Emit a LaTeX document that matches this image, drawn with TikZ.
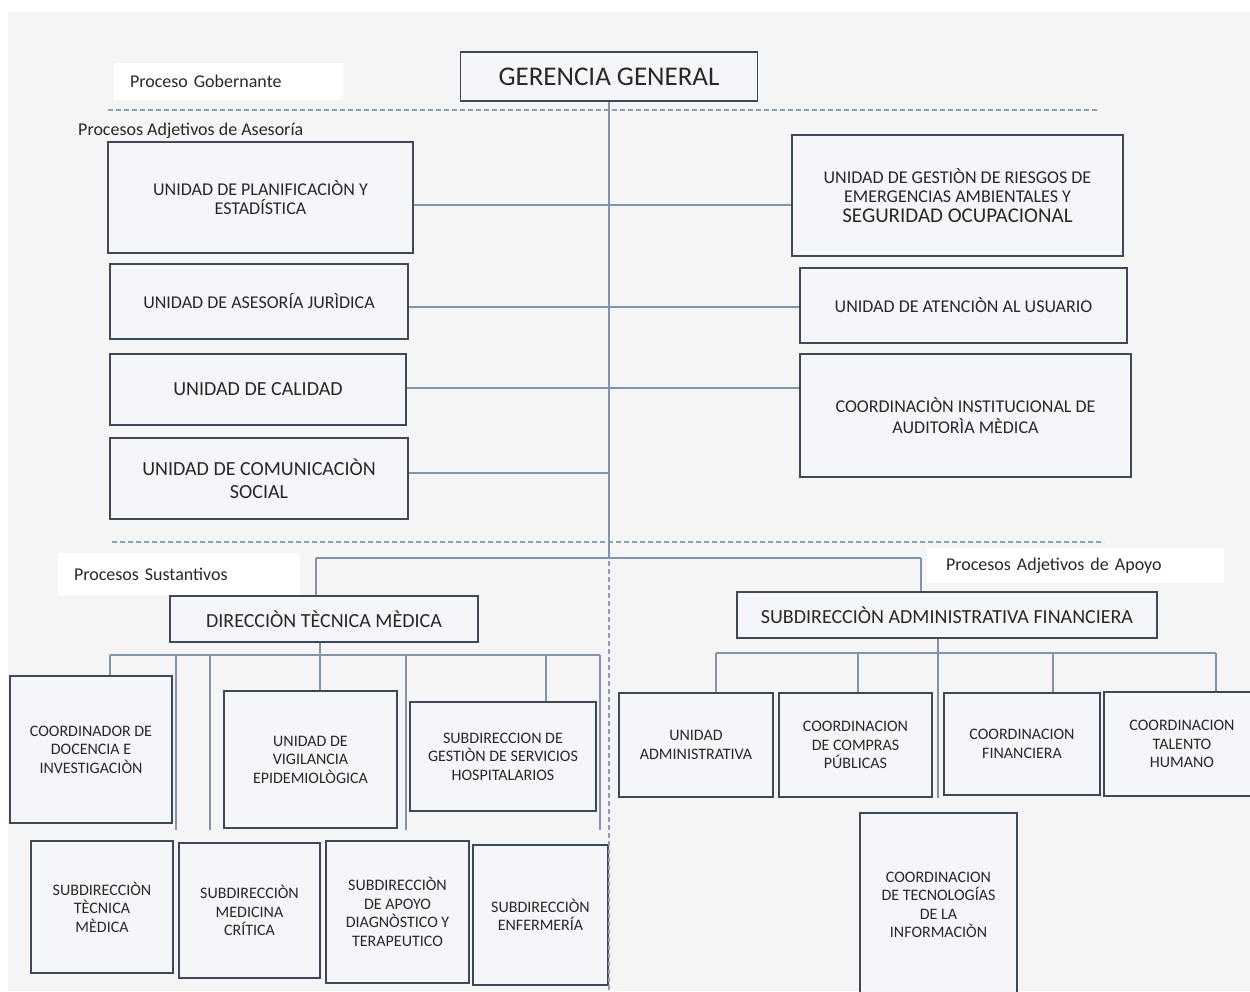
\documentclass[tikz,border=0pt]{standalone}
\usepackage{fontspec}
\setmainfont{Carlito}
\definecolor{bgc}{RGB}{245,245,246}
\definecolor{boxf}{RGB}{244,246,249}
\definecolor{boxc}{RGB}{62,72,86}
\definecolor{connc}{RGB}{130,148,170}
\definecolor{dashc}{RGB}{140,160,185}
\definecolor{txt}{RGB}{40,40,40}
\newcommand\fsz[2]{\fontsize{#1}{#2}\selectfont}
\begin{document}
\begin{tikzpicture}[x=1pt,y=-1pt,
 unit/.style={draw=boxc,line width=1.8pt,fill=boxf,inner sep=0pt,align=center,text=txt},
 big/.style={unit,font=\fsz{20}{23}},
 mid/.style={unit,font=\fsz{18}{19.5}},
 small/.style={unit,font=\fsz{16}{18.5}},
 conn/.style={draw=connc,line width=1.3pt},
 sepline/.style={draw=dashc,line width=1.2pt,dash pattern=on 5pt off 3pt},
 lab/.style={fill=white,inner ysep=0pt,text=txt,font=\fsz{18}{20},align=left}]
\useasboundingbox (0,0) rectangle (1250,991);
\clip (0,0) rectangle (1250,991);
\fill[white] (0,0) rectangle (1250,991);
\fill[bgc] (8,12) rectangle (1250,991);

% labels
\node[lab,minimum width=229pt,minimum height=37pt,inner xsep=16pt,text width=197pt] (lgob) at (228.5,81.5) {Proceso Gobernante};
\node[anchor=west,inner sep=0pt,text=txt,font=\fsz{18}{20}] (lase) at (78,131) {Procesos Adjetivos de Asesoría};
\node[lab,minimum width=242pt,minimum height=42pt,inner xsep=16pt,text width=210pt] (lsus) at (179,574) {Procesos Sustantivos};
\node[lab,minimum width=297pt,minimum height=35pt,inner xsep=19pt,text width=259pt] (lapo) at (1075.5,565.5) {Procesos Adjetivos de Apoyo};

% governing
\node[unit,font=\fsz{27}{30},minimum width=297pt,minimum height=49pt] (ger) at (609,76.5) {GERENCIA GENERAL};

% advisory
\node[mid,minimum width=305pt,minimum height=111pt] (plan) at (260.5,197.5) {UNIDAD DE PLANIFICACIÒN Y\\ESTADÍSTICA};
\node[mid,minimum width=331pt,minimum height=121pt] (ries) at (957.5,195.5) {UNIDAD DE GESTIÒN DE RIESGOS DE\\EMERGENCIAS AMBIENTALES Y\\{\fsz{21}{24}SEGURIDAD OCUPACIONAL}};
\node[mid,minimum width=298pt,minimum height=75pt] (jur) at (259,301.5) {UNIDAD DE ASESORÍA JURÌDICA};
\node[mid,minimum width=327pt,minimum height=75pt] (aten) at (963.5,305.5) {UNIDAD DE ATENCIÒN AL USUARIO};
\node[big,minimum width=296pt,minimum height=71pt] (cal) at (258,389.5) {UNIDAD DE CALIDAD};
\node[mid,minimum width=331pt,minimum height=123pt,font=\fsz{18}{21}] (aud) at (965.5,415.5) {COORDINACIÒN INSTITUCIONAL DE\\AUDITORÌA MÈDICA};
\node[big,minimum width=298pt,minimum height=81pt] (com) at (259,478.5) {UNIDAD DE COMUNICACIÒN\\SOCIAL};

% substantive
\node[big,minimum width=308pt,minimum height=46pt] (dir) at (324,619) {DIRECCIÒN TÈCNICA MÈDICA};
\node[small,minimum width=162pt,minimum height=147pt] (coo) at (91,749.5) {COORDINADOR DE\\DOCENCIA E\\INVESTIGACIÒN};
\node[small,minimum width=173pt,minimum height=137pt] (vig) at (310.5,759.5) {UNIDAD DE\\VIGILANCIA\\EPIDEMIOLÒGICA};
\node[small,minimum width=186pt,minimum height=109pt] (sge) at (503,756.5) {SUBDIRECCION DE\\GESTIÒN DE SERVICIOS\\HOSPITALARIOS};
\node[small,minimum width=142pt,minimum height=132pt] (tec) at (102,907) {SUBDIRECCIÒN\\TÈCNICA\\MÈDICA};
\node[small,minimum width=141pt,minimum height=135pt] (med) at (249.5,910.5) {SUBDIRECCIÒN\\MEDICINA\\CRÍTICA};
\node[small,minimum width=143pt,minimum height=142pt] (apo) at (397.5,912) {SUBDIRECCIÒN\\DE APOYO\\DIAGNÒSTICO Y\\TERAPEUTICO};
\node[small,minimum width=135pt,minimum height=140pt] (enf) at (540.5,915) {SUBDIRECCIÒN\\ENFERMERÍA};

% support
\node[big,minimum width=420pt,minimum height=46pt] (sub) at (947,615) {SUBDIRECCIÒN ADMINISTRATIVA FINANCIERA};
\node[small,minimum width=154pt,minimum height=104pt] (uad) at (696,745) {UNIDAD\\ADMINISTRATIVA};
\node[small,minimum width=153pt,minimum height=104pt] (cpu) at (855.5,745) {COORDINACION\\DE COMPRAS\\PÚBLICAS};
\node[small,minimum width=156pt,minimum height=102pt] (fin) at (1022,744) {COORDINACION\\FINANCIERA};
\node[small,minimum width=156pt,minimum height=104pt] (tal) at (1182,744) {COORDINACION\\TALENTO\\HUMANO};
\node[small,minimum width=157pt,minimum height=184pt] (tic) at (938.5,905) {COORDINACION\\DE TECNOLOGÍAS\\DE LA\\INFORMACIÒN};

% helper coordinates
\coordinate (d1a) at (108,110); \coordinate (d1b) at (1099,110);
\coordinate (d2a) at (112,542); \coordinate (d2b) at (1104,542);
\coordinate (dv1) at (609,545); \coordinate (dv2) at (609,991);
\coordinate (r1) at (0,205); \coordinate (r2) at (0,307);
\coordinate (r3) at (0,388); \coordinate (m4) at (609,473);
\coordinate (j1) at (609,558); \coordinate (jl) at (316,558); \coordinate (jr) at (921,558);
\coordinate (b1) at (110,655); \coordinate (b2) at (600,655);
\coordinate (dx) at (320,655); \coordinate (g1) at (546,655);
\coordinate (e1) at (176,830); \coordinate (e2) at (210,830);
\coordinate (e3) at (406,830); \coordinate (e4) at (600,830);
\coordinate (c1) at (716,653); \coordinate (c2) at (1216,653);
\coordinate (c3) at (858,653); \coordinate (c4) at (1053,653);
\coordinate (ax) at (938,798);

% separators
\draw[sepline] (d1a) -- (d1b);
\draw[sepline] (d2a) -- (d2b);
\draw[sepline] (dv1) -- (dv2);

% connectors
\draw[conn] (ger.south) -- (j1);
\draw[conn] (plan.east |- r1) -- (ries.west |- r1);
\draw[conn] (jur.east |- r2) -- (aten.west |- r2);
\draw[conn] (cal.east |- r3) -- (aud.west |- r3);
\draw[conn] (com.east |- m4) -- (m4);
\draw[conn] (jl) -- (jr);
\draw[conn] (jl) -- (dir.north -| jl);
\draw[conn] (jr) -- (sub.north -| jr);

\draw[conn] (b1) -- (b2);
\draw[conn] (dir.south -| dx) -- (vig.north -| dx);
\draw[conn] (b1) -- (coo.north -| b1);
\draw[conn] (e1 |- b1) -- (e1);
\draw[conn] (e2 |- b1) -- (e2);
\draw[conn] (e3 |- b1) -- (e3);
\draw[conn] (b2) -- (e4);
\draw[conn] (g1) -- (sge.north -| g1);

\draw[conn] (c1) -- (c2);
\draw[conn] (sub.south -| ax) -- (ax);
\draw[conn] (c1) -- (uad.north -| c1);
\draw[conn] (c3) -- (cpu.north -| c3);
\draw[conn] (c4) -- (fin.north -| c4);
\draw[conn] (c2) -- (tal.north -| c2);
\end{tikzpicture}
\end{document}
